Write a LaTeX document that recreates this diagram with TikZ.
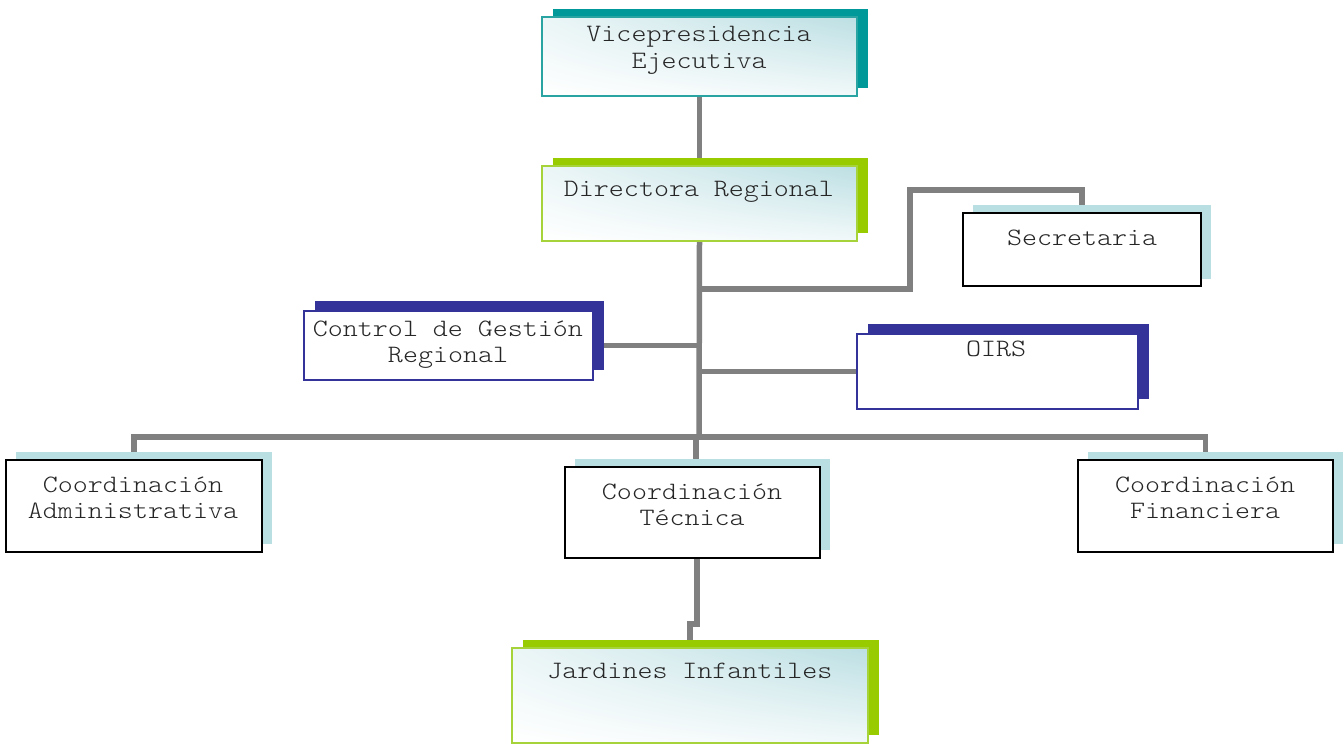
\documentclass[tikz,border=0pt]{standalone}
\usepackage{fontspec}
\setmonofont{lmmonolt10-regular.otf}[FakeStretch=1.143]
\usetikzlibrary{shadows,shadings,backgrounds}
\definecolor{gline}{HTML}{808080}
\definecolor{tealsh}{HTML}{009999}
\definecolor{tealbd}{HTML}{2AA3A3}
\definecolor{greensh}{HTML}{99CC00}
\definecolor{greenbd}{HTML}{A6D23A}
\definecolor{navy}{HTML}{333399}
\definecolor{ltblue}{HTML}{B9DFE3}
\definecolor{gradb}{HTML}{BCDFE3}
\tikzset{
  grad/.style={shade, shading=bilinear interpolation,
    lower left=white, upper left=gradb!30, upper right=gradb, lower right=gradb!20},
  base/.style={inner sep=0pt, outer sep=0pt},
  tealbox/.style={base, grad, draw=tealbd, line width=1.4pt,
    general shadow={fill=tealsh, shadow xshift=10.5pt, shadow yshift=8pt}},
  greenbox/.style={base, grad, draw=greenbd, line width=1.4pt,
    general shadow={fill=greensh, shadow xshift=10.5pt, shadow yshift=8pt}},
  navybox/.style={base, fill=white, draw=navy, line width=1.4pt,
    general shadow={fill=navy, shadow xshift=10.5pt, shadow yshift=10.5pt}},
  blackbox/.style={base, fill=white, draw=black, line width=1.8pt,
    general shadow={fill=ltblue, shadow xshift=10pt, shadow yshift=8pt}},
  txt/.style={font=\ttfamily\fontsize{25}{26.5}\selectfont, align=center,
    inner sep=0pt, text=black!85, anchor=base},
  conn/.style={draw=gline, line width=5.5pt}
}
\begin{document}
\begin{tikzpicture}[x=1pt,y=-1pt]
\useasboundingbox (0,0) rectangle (1343,744);
% boxes
\node[tealbox, minimum width=315pt, minimum height=79pt] (vice) at (699.5,56.5) {};
\node[greenbox, minimum width=315pt, minimum height=75pt] (dir) at (699.5,203.5) {};
\node[blackbox, minimum width=238pt, minimum height=73pt, general shadow={fill=ltblue, shadow xshift=10pt, shadow yshift=7pt}] (secr) at (1082,249.5) {};
\node[navybox, minimum width=289pt, minimum height=69pt] (ctrl) at (448.5,345.5) {};
\node[navybox, minimum width=281pt, minimum height=75pt] (oirs) at (997.5,371.5) {};
\node[blackbox, minimum width=256pt, minimum height=92pt] (adm) at (134,506) {};
\node[blackbox, minimum width=255pt, minimum height=91pt] (tec) at (692.5,512.5) {};
\node[blackbox, minimum width=255pt, minimum height=92pt] (fin) at (1205.5,506) {};
\node[greenbox, minimum width=356pt, minimum height=95pt] (jard) at (690,695.5) {};
% texts (base = baseline of last line)
\node[txt] (tvice) at (699,68) {Vicepresidencia\\Ejecutiva};
\node[txt] (tdir) at (699,196.5) {Directora Regional};
\node[txt] (tsecr) at (1082,245) {Secretaria};
\node[txt] (tctrl) at (448,362.5) {Control de Gestión\\Regional};
\node[txt] (toirs) at (996,356) {OIRS};
\node[txt] (tadm) at (133,518.5) {Coordinación\\Administrativa};
\node[txt] (ttec) at (692,525.5) {Coordinación\\Técnica};
\node[txt] (tfin) at (1205,518.5) {Coordinación\\Financiera};
\node[txt] (tjard) at (690,678) {Jardines Infantiles};
% junction points
\coordinate (jS) at (699,289);
\coordinate (jC) at (699,345.5);
\coordinate (jO) at (699,371.5);
\coordinate (bus) at (699,437);
\coordinate (sc) at (910,190);
\coordinate (tt) at (696,467);
\coordinate (k1) at (697,624);
\begin{scope}[on background layer]
\draw[conn] (vice.south) -- (dir.north);
\draw[conn] (dir.south) -- (bus);
\draw[conn] (jS) -| (sc) -| (secr.north);
\draw[conn] (jC) -- (ctrl.east);
\draw[conn] (jO) -- (oirs.west);
\draw[conn] (adm.north) |- (bus) -| (fin.north);
\draw[conn] (tt) -- (tt |- bus);
\draw[conn] (tec.south -| k1) -- (k1) -| (jard.north);
\end{scope}
\end{tikzpicture}
\end{document}
